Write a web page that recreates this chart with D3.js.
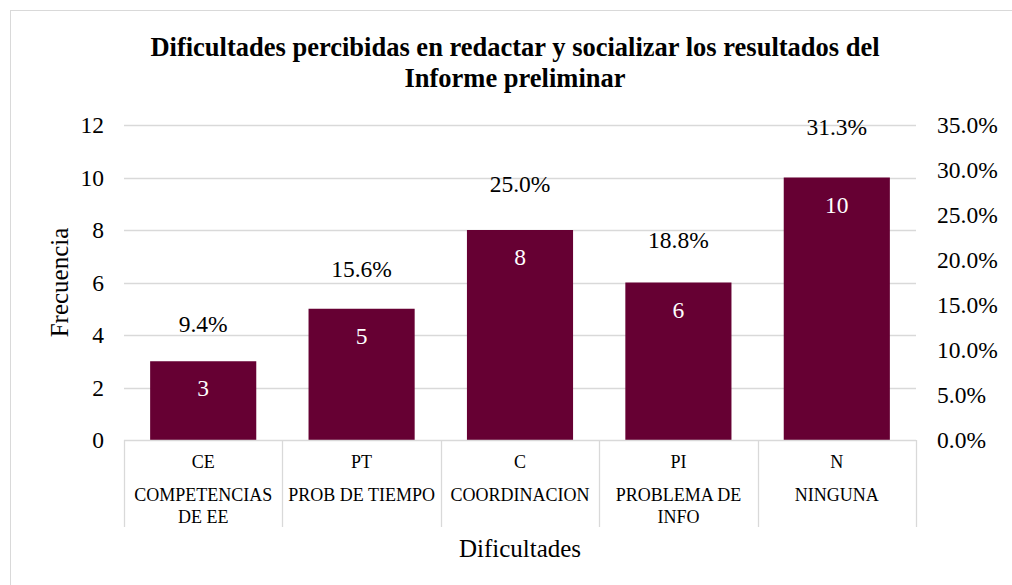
<!DOCTYPE html>
<html>
<head>
<meta charset="utf-8">
<script src="https://d3js.org/d3.v7.min.js"></script>
<style>
  body { margin: 0; background: #fff; }
  svg text { font-family: "Liberation Serif", "Times New Roman", serif; }
</style>
</head>
<body>
<svg width="1012" height="585"></svg>
<script>
const codes = ["CE", "PT", "C", "PI", "N"];
const names = [["COMPETENCIAS", "DE EE"], ["PROB DE TIEMPO"], ["COORDINACION"], ["PROBLEMA DE", "INFO"], ["NINGUNA"]];
const counts = [3, 5, 8, 6, 10];
const percents = [0.094, 0.156, 0.25, 0.188, 0.313];
const leftTicks = [0, 2, 4, 6, 8, 10, 12];
const rightTicks = [0, 0.05, 0.10, 0.15, 0.20, 0.25, 0.30, 0.35];

const svg = d3.select("svg");
const plotLeft = 124, plotRight = 916, plotTop = 125, plotBottom = 440;

// chart border
svg.append("rect")
  .attr("x", 10.5).attr("y", 10.5)
  .attr("width", 1010).attr("height", 580)
  .attr("fill", "#fff")
  .attr("stroke", "#d9d9d9");

// title
const title = svg.append("text")
  .attr("text-anchor", "middle")
  .attr("font-size", "26.5px")
  .attr("font-weight", "bold");
title.append("tspan").attr("x", 515).attr("y", 56)
  .text("Dificultades percibidas en redactar y socializar los resultados del");
title.append("tspan").attr("x", 515).attr("y", 87)
  .text("Informe preliminar");

const x = d3.scaleBand()
  .domain(codes)
  .range([plotLeft, plotRight])
  .paddingInner(0.33)
  .paddingOuter(0.165);

const yL = d3.scaleLinear().domain([0, 12]).range([plotBottom, plotTop]);
const yR = d3.scaleLinear().domain([0, 0.35]).range([plotBottom, plotTop]);

// gridlines
svg.append("g")
  .selectAll("line")
  .data(leftTicks.filter(d => d > 0))
  .enter().append("line")
  .attr("x1", plotLeft).attr("x2", plotRight)
  .attr("y1", d => Math.round(yL(d)) + 0.5)
  .attr("y2", d => Math.round(yL(d)) + 0.5)
  .attr("stroke", "#d9d9d9")
  .attr("stroke-width", 1.3);

// left axis labels
const leftAxis = d3.axisLeft(yL).tickValues(leftTicks).tickSize(0).tickPadding(20);
svg.append("g")
  .attr("transform", `translate(${plotLeft}, 0)`)
  .call(leftAxis)
  .call(g => g.select(".domain").remove())
  .selectAll("text")
    .attr("font-size", "23.5px")
    .attr("fill", "#000");

// right axis labels
const rightAxis = d3.axisRight(yR).tickValues(rightTicks).tickSize(0).tickPadding(21)
  .tickFormat(d3.format(".1%"));
svg.append("g")
  .attr("transform", `translate(${plotRight}, 0)`)
  .call(rightAxis)
  .call(g => g.select(".domain").remove())
  .selectAll("text")
    .attr("font-size", "23.5px")
    .attr("fill", "#000");

// bars
svg.append("g")
  .selectAll("rect")
  .data(codes)
  .enter().append("rect")
  .attr("x", d => x(d))
  .attr("y", (d, i) => yL(counts[i]))
  .attr("width", x.bandwidth())
  .attr("height", (d, i) => plotBottom - yL(counts[i]))
  .attr("fill", "#660033");

// bar value labels
svg.append("g")
  .selectAll("text")
  .data(codes)
  .enter().append("text")
  .attr("x", d => x(d) + x.bandwidth() / 2)
  .attr("y", (d, i) => yL(counts[i]) + 35)
  .attr("text-anchor", "middle")
  .attr("font-size", "23.5px")
  .attr("fill", "#fff")
  .text((d, i) => counts[i]);

// percentage labels (right axis series)
svg.append("g")
  .selectAll("text")
  .data(codes)
  .enter().append("text")
  .attr("x", d => x(d) + x.bandwidth() / 2)
  .attr("y", (d, i) => yR(percents[i]) - 23)
  .attr("text-anchor", "middle")
  .attr("font-size", "23.5px")
  .attr("fill", "#000")
  .text((d, i) => d3.format(".1%")(percents[i]));

// category table
const band = (plotRight - plotLeft) / codes.length;
const cat = svg.append("g");
cat.append("line")
  .attr("x1", plotLeft).attr("x2", plotRight)
  .attr("y1", plotBottom + 0.5).attr("y2", plotBottom + 0.5)
  .attr("stroke", "#d9d9d9").attr("stroke-width", 1.3);
cat.selectAll(".sep")
  .data(d3.range(codes.length + 1))
  .enter().append("line")
  .attr("class", "sep")
  .attr("x1", i => Math.round(plotLeft + i * band) + 0.5)
  .attr("x2", i => Math.round(plotLeft + i * band) + 0.5)
  .attr("y1", plotBottom).attr("y2", 527)
  .attr("stroke", "#d9d9d9").attr("stroke-width", 1.3);

codes.forEach((c, i) => {
  const cx = x(c) + x.bandwidth() / 2;
  cat.append("text")
    .attr("x", cx).attr("y", 468)
    .attr("text-anchor", "middle")
    .attr("font-size", "18px")
    .text(c);
  names[i].forEach((line, j) => {
    cat.append("text")
      .attr("x", cx).attr("y", 501 + j * 22)
      .attr("text-anchor", "middle")
      .attr("font-size", "18px")
      .text(line);
  });
});

// axis titles
svg.append("text")
  .attr("transform", `translate(68, ${(plotTop + plotBottom) / 2}) rotate(-90)`)
  .attr("text-anchor", "middle")
  .attr("font-size", "25px")
  .text("Frecuencia");

svg.append("text")
  .attr("x", 520).attr("y", 557)
  .attr("text-anchor", "middle")
  .attr("font-size", "25px")
  .text("Dificultades");
</script>
</body>
</html>
